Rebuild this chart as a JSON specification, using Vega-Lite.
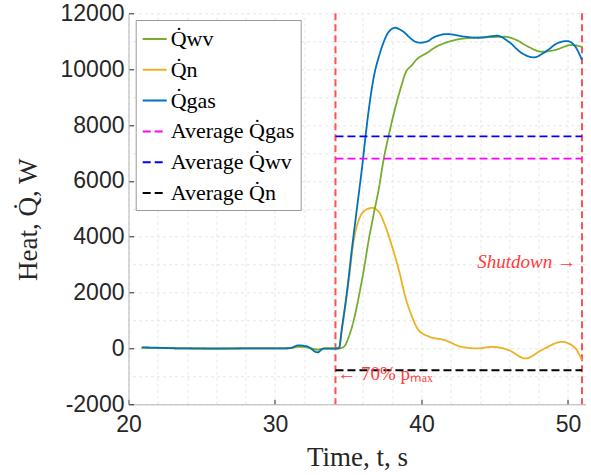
{
  "$schema": "https://vega.github.io/schema/vega-lite/v6.json",
  "width": 457,
  "height": 391,
  "autosize": {"type": "none"},
  "padding": {"left": 128.5, "top": 13.3, "right": 5.5, "bottom": 70.7},
  "background": "white",
  "config": {
    "view": {"stroke": null},
    "legend": {
      "orient": "none",
      "legendX": 7.2,
      "legendY": 6.7,
      "strokeColor": "#9a9a9a",
      "fillColor": "white",
      "padding": 6,
      "symbolType": "stroke",
      "symbolSize": 576,
      "symbolStrokeWidth": 2,
      "labelFont": "Liberation Serif",
      "labelFontSize": 22,
      "labelColor": "#000000",
      "rowPadding": 6.8,
      "labelOffset": 3,
      "labelLimit": 300
    }
  },
  "resolve": {"axis": {"x": "independent", "y": "independent"}},
  "datasets": {
    "curves": [
      {"s": "n", "t": 20.9, "v": 30}, {"s": "n", "t": 22, "v": 15}, {"s": "n", "t": 24, "v": 0}, {"s": "n", "t": 26, "v": -10}, {"s": "n", "t": 28, "v": 0}, {"s": "n", "t": 30, "v": 0}, {"s": "n", "t": 31, "v": 5}, {"s": "n", "t": 31.6, "v": 60}, {"s": "n", "t": 32.2, "v": 40}, {"s": "n", "t": 32.9, "v": -40}, {"s": "n", "t": 33.4, "v": 0}, {"s": "n", "t": 34.36, "v": 0}, {"s": "n", "t": 34.58, "v": 700}, {"s": "n", "t": 35.04, "v": 2446}, {"s": "n", "t": 35.38, "v": 3879}, {"s": "n", "t": 35.72, "v": 4595}, {"s": "n", "t": 36.18, "v": 4953}, {"s": "n", "t": 36.63, "v": 5036}, {"s": "n", "t": 37.09, "v": 4893}, {"s": "n", "t": 37.55, "v": 4355}, {"s": "n", "t": 38.0, "v": 3639}, {"s": "n", "t": 38.46, "v": 2804}, {"s": "n", "t": 38.9, "v": 1848}, {"s": "n", "t": 39.36, "v": 1132}, {"s": "n", "t": 39.8, "v": 655}, {"s": "n", "t": 40.5, "v": 430}, {"s": "n", "t": 41.6, "v": 297}, {"s": "n", "t": 42.75, "v": 57}, {"s": "n", "t": 43.9, "v": 0}, {"s": "n", "t": 44.8, "v": 57}, {"s": "n", "t": 45.96, "v": -61}, {"s": "n", "t": 47.1, "v": -358}, {"s": "n", "t": 48.2, "v": -61}, {"s": "n", "t": 49.6, "v": 236}, {"s": "n", "t": 50.5, "v": 11}, {"s": "n", "t": 50.95, "v": -419},
      {"s": "wv", "t": 20.9, "v": 20}, {"s": "wv", "t": 22, "v": 15}, {"s": "wv", "t": 24, "v": 0}, {"s": "wv", "t": 26, "v": -15}, {"s": "wv", "t": 28, "v": 0}, {"s": "wv", "t": 30, "v": 0}, {"s": "wv", "t": 31, "v": 10}, {"s": "wv", "t": 31.6, "v": 70}, {"s": "wv", "t": 32.2, "v": 40}, {"s": "wv", "t": 32.9, "v": -40}, {"s": "wv", "t": 33.4, "v": 0}, {"s": "wv", "t": 34.36, "v": 0}, {"s": "wv", "t": 34.7, "v": 57}, {"s": "wv", "t": 35.04, "v": 416}, {"s": "wv", "t": 35.38, "v": 1013}, {"s": "wv", "t": 35.72, "v": 1848}, {"s": "wv", "t": 36.06, "v": 2804}, {"s": "wv", "t": 36.4, "v": 3879}, {"s": "wv", "t": 36.75, "v": 4835}, {"s": "wv", "t": 37.09, "v": 5720}, {"s": "wv", "t": 37.43, "v": 6805}, {"s": "wv", "t": 37.77, "v": 7640}, {"s": "wv", "t": 38.23, "v": 8653}, {"s": "wv", "t": 38.68, "v": 9491}, {"s": "wv", "t": 38.9, "v": 9850}, {"s": "wv", "t": 39.36, "v": 10147}, {"s": "wv", "t": 39.59, "v": 10300}, {"s": "wv", "t": 40.5, "v": 10623}, {"s": "wv", "t": 40.72, "v": 10709}, {"s": "wv", "t": 41.85, "v": 10982}, {"s": "wv", "t": 42.99, "v": 11103}, {"s": "wv", "t": 44.35, "v": 11139}, {"s": "wv", "t": 45.71, "v": 11160}, {"s": "wv", "t": 46.39, "v": 11067}, {"s": "wv", "t": 47.3, "v": 10802}, {"s": "wv", "t": 48.2, "v": 10623}, {"s": "wv", "t": 49.1, "v": 10684}, {"s": "wv", "t": 50.24, "v": 10863}, {"s": "wv", "t": 50.96, "v": 10802},
      {"s": "gas", "t": 20.9, "v": 40}, {"s": "gas", "t": 22, "v": 25}, {"s": "gas", "t": 24, "v": 0}, {"s": "gas", "t": 26, "v": 0}, {"s": "gas", "t": 28, "v": 0}, {"s": "gas", "t": 30, "v": 0}, {"s": "gas", "t": 31, "v": 10}, {"s": "gas", "t": 31.6, "v": 110}, {"s": "gas", "t": 32.2, "v": 70}, {"s": "gas", "t": 32.9, "v": -140}, {"s": "gas", "t": 33.3, "v": -10}, {"s": "gas", "t": 34.36, "v": 0}, {"s": "gas", "t": 34.58, "v": 775}, {"s": "gas", "t": 34.93, "v": 2088}, {"s": "gas", "t": 35.27, "v": 3640}, {"s": "gas", "t": 35.61, "v": 5072}, {"s": "gas", "t": 35.95, "v": 6505}, {"s": "gas", "t": 36.18, "v": 7580}, {"s": "gas", "t": 36.4, "v": 8535}, {"s": "gas", "t": 36.75, "v": 9730}, {"s": "gas", "t": 37.09, "v": 10444}, {"s": "gas", "t": 37.43, "v": 10982}, {"s": "gas", "t": 37.77, "v": 11340}, {"s": "gas", "t": 38.23, "v": 11483}, {"s": "gas", "t": 38.45, "v": 11440}, {"s": "gas", "t": 38.9, "v": 11282}, {"s": "gas", "t": 39.14, "v": 11160}, {"s": "gas", "t": 39.59, "v": 10982}, {"s": "gas", "t": 39.93, "v": 10946}, {"s": "gas", "t": 40.5, "v": 11017}, {"s": "gas", "t": 40.72, "v": 11103}, {"s": "gas", "t": 41.74, "v": 11257}, {"s": "gas", "t": 42.99, "v": 11160}, {"s": "gas", "t": 43.9, "v": 11125}, {"s": "gas", "t": 45.16, "v": 11196}, {"s": "gas", "t": 45.96, "v": 10982}, {"s": "gas", "t": 46.87, "v": 10566}, {"s": "gas", "t": 47.67, "v": 10423}, {"s": "gas", "t": 48.47, "v": 10623}, {"s": "gas", "t": 49.26, "v": 10924}, {"s": "gas", "t": 49.94, "v": 11006}, {"s": "gas", "t": 50.51, "v": 10802}, {"s": "gas", "t": 50.96, "v": 10326}
    ],
    "avg": [
      {"s": "avg_gas", "t": 34.13, "v": 6800}, {"s": "avg_gas", "t": 50.96, "v": 6800},
      {"s": "avg_wv", "t": 34.13, "v": 7590}, {"s": "avg_wv", "t": 50.96, "v": 7590},
      {"s": "avg_n", "t": 34.13, "v": -780}, {"s": "avg_n", "t": 50.96, "v": -780}
    ],
    "events": [{"t": 34.13}, {"t": 50.96}],
    "shut": [{"t": 50.55, "v": 2865, "label": "Shutdown →"}],
    "start": [{"t": 34.25, "v": -1135, "label": "← 70% pₘₐₓ"}]
  },
  "layer": [
    {
      "data": {"name": "avg"},
      "mark": {"type": "line", "strokeWidth": 1.8, "opacity": 0},
      "encoding": {
        "x": {
          "field": "t", "type": "quantitative",
          "scale": {"domain": [20, 51.2], "nice": false, "zero": false},
          "axis": {
            "orient": "top",
            "values": [20, 22, 24, 26, 28, 30, 32, 34, 36, 38, 40, 42, 44, 46, 48, 50],
            "grid": true, "gridColor": "#e6e6e6", "gridDash": [3, 3], "gridWidth": 1,
            "labels": false, "ticks": false, "domain": false, "title": null
          }
        },
        "y": {
          "field": "v", "type": "quantitative",
          "scale": {"domain": [-2000, 12000], "nice": false, "zero": false},
          "axis": {
            "orient": "right",
            "values": [-2000, -1000, 0, 1000, 2000, 3000, 4000, 5000, 6000, 7000, 8000, 9000, 10000, 11000, 12000],
            "grid": true, "gridColor": "#e6e6e6", "gridDash": [3, 3], "gridWidth": 1,
            "labels": false, "ticks": false, "domain": false, "title": null
          }
        }
      }
    },
    {
      "data": {"name": "events"},
      "mark": {"type": "rule", "color": "#FF5252", "strokeWidth": 2, "strokeDash": [7, 4]},
      "encoding": {
        "x": {
          "field": "t", "type": "quantitative",
          "axis": {
            "values": [20, 30, 40, 50],
            "format": "d",
            "grid": false,
            "tickSize": -5, "tickColor": "#262626",
            "domainColor": "#b5b5b5",
            "labelFont": "Liberation Sans", "labelFontSize": 23, "labelColor": "#262626",
            "labelBaseline": "alphabetic", "labelPadding": 32.6, "labelFlush": false,
            "title": "Time, t, s", "titleFont": "Liberation Serif", "titleFontSize": 27,
            "titleFontWeight": "normal", "titleColor": "#262626", "titleBaseline": "alphabetic", "titleY": 61
          }
        }
      }
    },
    {
      "data": {"name": "curves"},
      "mark": {"type": "line", "strokeWidth": 1.8, "interpolate": "monotone"},
      "encoding": {
        "x": {"field": "t", "type": "quantitative", "axis": null},
        "y": {
          "field": "v", "type": "quantitative",
          "axis": {
            "values": [-2000, 0, 2000, 4000, 6000, 8000, 10000, 12000],
            "labelExpr": "'' + datum.value",
            "grid": false,
            "tickSize": -5, "tickColor": "#262626",
            "domainColor": "#b5b5b5",
            "labelFont": "Liberation Sans", "labelFontSize": 23, "labelColor": "#262626",
            "labelBaseline": "middle", "labelPadding": 9.5, "labelFlush": false,
            "title": "Heat, Q̇, W", "titleFont": "Liberation Serif", "titleFontSize": 27,
            "titleFontWeight": "normal", "titleColor": "#262626", "titleBaseline": "alphabetic",
            "titleAngle": -90, "titleX": -92, "titleY": 206
          }
        },
        "color": {
          "field": "s", "type": "nominal",
          "scale": {"domain": ["wv", "n", "gas", "avg_gas", "avg_wv", "avg_n"], "range": ["#77AC30", "#EDB120", "#0072BD", "#FF00FF", "#0000FF", "#000000"]},
          "legend": {"title": null, "labelExpr": "datum.label == 'wv' ? 'Q̇wv' : datum.label == 'n' ? 'Q̇n' : datum.label == 'gas' ? 'Q̇gas' : datum.label == 'avg_gas' ? 'Average Q̇gas' : datum.label == 'avg_wv' ? 'Average Q̇wv' : 'Average Q̇n'"}
        },
        "strokeDash": {
          "field": "s", "type": "nominal",
          "scale": {"domain": ["wv", "n", "gas", "avg_gas", "avg_wv", "avg_n"], "range": [[1, 0], [1, 0], [1, 0], [8, 4], [8, 4], [8, 4]]},
          "legend": {"title": null, "labelExpr": "datum.label == 'wv' ? 'Q̇wv' : datum.label == 'n' ? 'Q̇n' : datum.label == 'gas' ? 'Q̇gas' : datum.label == 'avg_gas' ? 'Average Q̇gas' : datum.label == 'avg_wv' ? 'Average Q̇wv' : 'Average Q̇n'"}
        }
      }
    },
    {
      "data": {"name": "avg"},
      "mark": {"type": "line", "strokeWidth": 1.8},
      "encoding": {
        "x": {"field": "t", "type": "quantitative", "axis": null},
        "y": {"field": "v", "type": "quantitative", "axis": null},
        "color": {"field": "s", "type": "nominal"},
        "strokeDash": {"field": "s", "type": "nominal"}
      }
    },
    {
      "data": {"name": "shut"},
      "mark": {"type": "text", "align": "right", "baseline": "alphabetic", "font": "Liberation Serif", "fontStyle": "italic", "fontSize": 19, "color": "#FF3B3B"},
      "encoding": {
        "x": {"field": "t", "type": "quantitative", "axis": null},
        "y": {"field": "v", "type": "quantitative", "axis": null},
        "text": {"field": "label"}
      }
    },
    {
      "data": {"name": "start"},
      "mark": {"type": "text", "align": "left", "baseline": "alphabetic", "font": "Liberation Serif", "fontSize": 19, "color": "#FF3B3B"},
      "encoding": {
        "x": {"field": "t", "type": "quantitative", "axis": null},
        "y": {"field": "v", "type": "quantitative", "axis": null},
        "text": {"field": "label"}
      }
    }
  ]
}
